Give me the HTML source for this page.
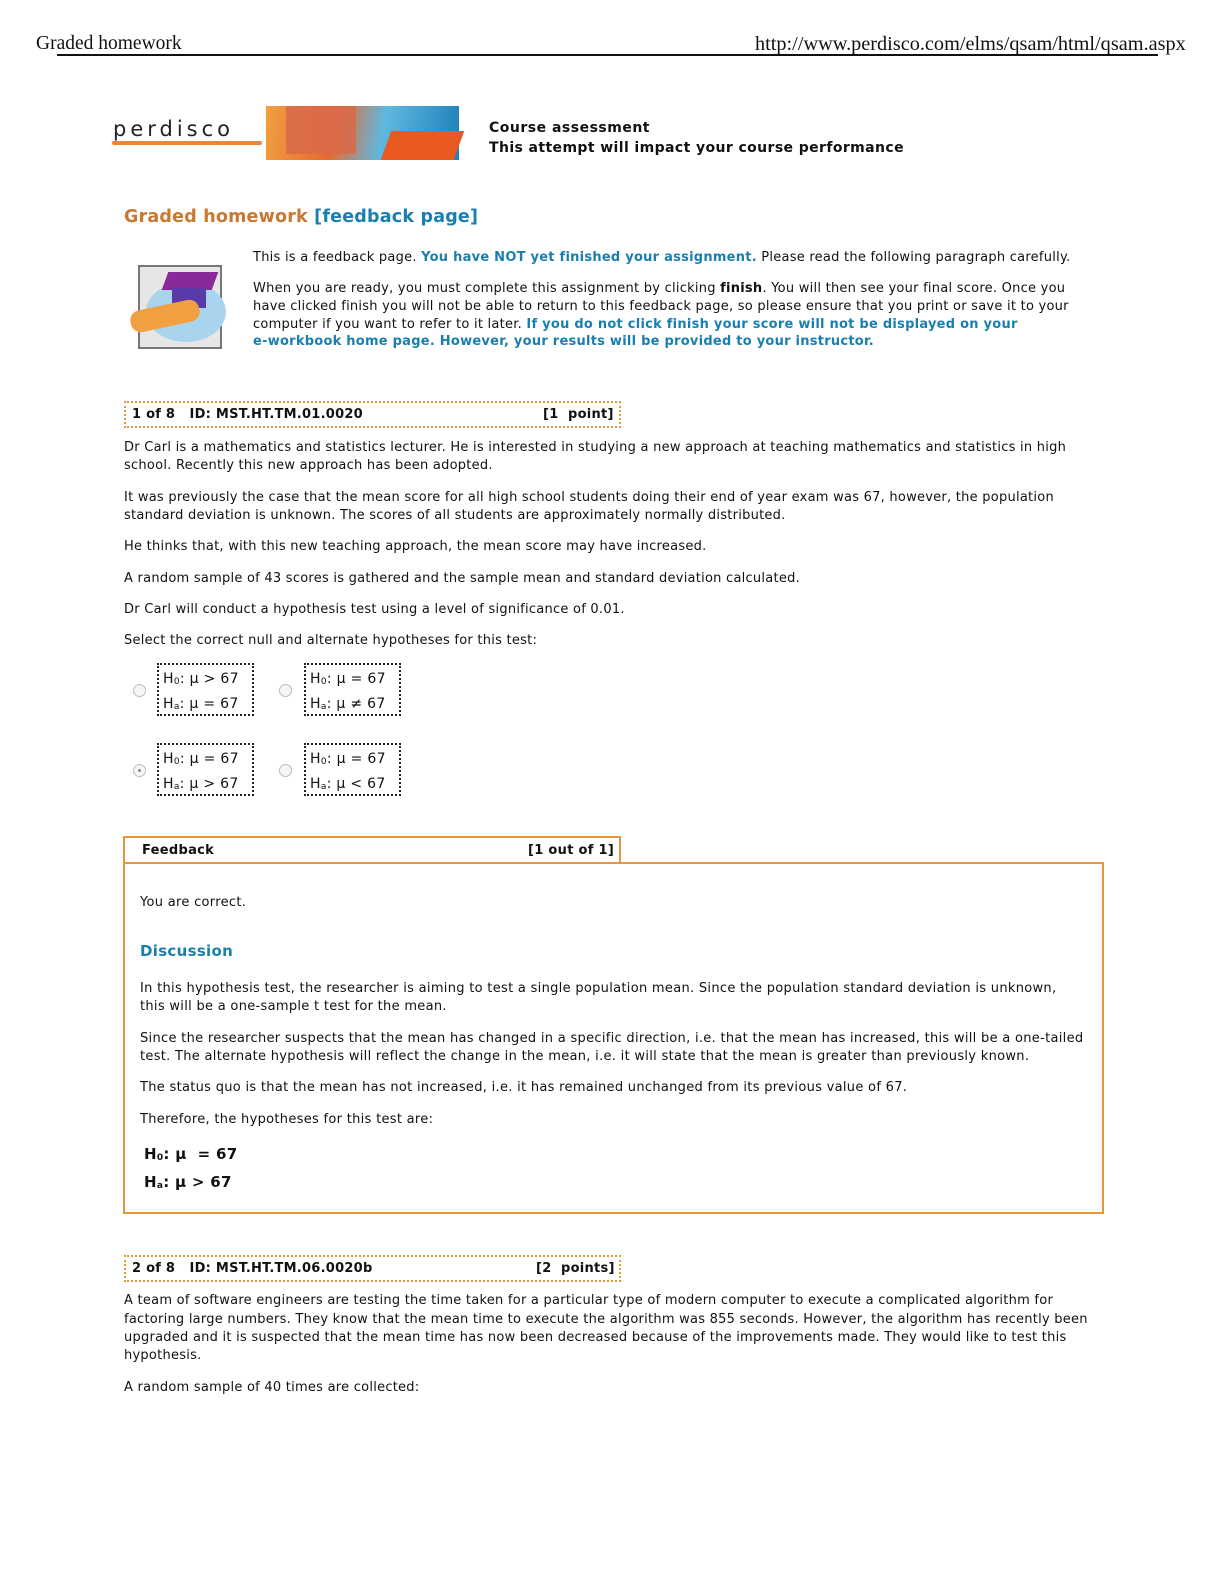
<!DOCTYPE html>
<html><head><meta charset="utf-8"><style>
body{margin:0;width:1224px;height:1584px;background:#fff;position:relative;overflow:hidden;font-family:"DejaVu Sans",Verdana,sans-serif;color:#111}
.t{position:absolute;white-space:nowrap;font-size:13px;line-height:16px;letter-spacing:0.25px}
.f{position:absolute;white-space:nowrap;font-size:13px;line-height:16px;letter-spacing:0.3px}
.b{font-weight:bold}
.bl{color:#1a7fb0;font-weight:bold}
.box{position:absolute;border:2px dotted #e8963c;box-sizing:border-box}
.opt{position:absolute;border:2px dotted #222;box-sizing:border-box;width:97px;height:53px;font-size:14px;line-height:22px;padding:3px 0 0 4px;letter-spacing:0.3px}
.r{position:absolute;width:11px;height:11px;border:1px solid #bbb;border-radius:50%;background:#f6f6f6}
sub{font-size:9px;vertical-align:-1px}
</style></head><body>
<div style="position:absolute;left:36px;top:33px;font-family:'Liberation Serif',serif;font-size:19.5px">Graded homework</div>
<div style="position:absolute;left:755px;top:33px;font-family:'Liberation Serif',serif;font-size:20.3px;white-space:nowrap">http://www.perdisco.com/elms/qsam/html/qsam.aspx</div>
<div style="position:absolute;left:57px;top:54px;width:1101px;height:2px;background:#111"></div>

<div style="position:absolute;left:108px;top:107px;width:158px;height:52px;background:#fff">
<div style="position:absolute;left:5px;top:10px;font-family:'DejaVu Sans',sans-serif;font-size:21px;letter-spacing:4px;color:#222">perdisco</div>
<div style="position:absolute;left:4px;top:34px;width:150px;height:4px;background:#e8863c;border-radius:2px"></div></div>
<div style="position:absolute;left:266px;top:106px;width:193px;height:54px;background:linear-gradient(100deg,#f0a040 0%,#e86a30 35%,#5fb8e0 60%,#1e7fb8 100%)">
<div style="position:absolute;left:20px;top:0;width:70px;height:48px;background:#d86a4a;opacity:.85"></div>
<div style="position:absolute;left:120px;top:25px;width:73px;height:29px;background:#e85a20;transform:skewX(-20deg)"></div></div>
<div class="t b" style="left:489px;top:120px;font-size:14px;letter-spacing:0.5px">Course assessment</div>
<div class="t b" style="left:489px;top:140px;font-size:14px;letter-spacing:0.4px">This attempt will impact your course performance</div>

<div style="position:absolute;left:124px;top:207px;font-size:17.5px;font-weight:bold;letter-spacing:0.2px;color:#c87830;white-space:nowrap">Graded homework <span style="color:#1a7fb0">[feedback page]</span></div>

<div style="position:absolute;left:138px;top:265px;width:84px;height:84px;background:#e6e6e6;border:2px solid #777;box-sizing:border-box"></div>
<div style="position:absolute;left:146px;top:282px;width:80px;height:60px;border-radius:50%;background:#a8d4ee"></div>
<div style="position:absolute;left:165px;top:272px;width:50px;height:18px;background:#8a2a9a;transform:skewX(-20deg)"></div>
<div style="position:absolute;left:172px;top:288px;width:34px;height:20px;background:#5a3aa8"></div>
<div style="position:absolute;left:130px;top:305px;width:70px;height:22px;background:#f0a040;border-radius:10px;transform:rotate(-12deg)"></div>

<div class="t" style="left:253px;top:250px">This is a feedback page. <span class="bl">You have NOT yet finished your assignment.</span> Please read the following paragraph carefully.</div>
<div class="t" style="left:253px;top:281px">When you are ready, you must complete this assignment by clicking <b>finish</b>. You will then see your final score. Once you</div>
<div class="t" style="left:253px;top:299px">have clicked finish you will not be able to return to this feedback page, so please ensure that you print or save it to your</div>
<div class="t" style="left:253px;top:317px">computer if you want to refer to it later. <span class="bl">If you do not click finish your score will not be displayed on your</span></div>
<div class="t bl" style="left:253px;top:334px">e-workbook home page. However, your results will be provided to your instructor.</div>

<div class="box" style="left:124px;top:401px;width:497px;height:27px"></div>
<div class="t b" style="left:132px;top:407px">1 of 8&nbsp;&nbsp; ID: MST.HT.TM.01.0020</div>
<div class="t b" style="left:543px;top:407px">[1&nbsp; point]</div>

<div class="t" style="left:124px;top:440px">Dr Carl is a mathematics and statistics lecturer. He is interested in studying a new approach at teaching mathematics and statistics in high</div>
<div class="t" style="left:124px;top:458px">school. Recently this new approach has been adopted.</div>
<div class="t" style="left:124px;top:490px">It was previously the case that the mean score for all high school students doing their end of year exam was 67, however, the population</div>
<div class="t" style="left:124px;top:508px">standard deviation is unknown. The scores of all students are approximately normally distributed.</div>
<div class="t" style="left:124px;top:539px">He thinks that, with this new teaching approach, the mean score may have increased.</div>
<div class="t" style="left:124px;top:571px">A random sample of 43 scores is gathered and the sample mean and standard deviation calculated.</div>
<div class="t" style="left:124px;top:602px">Dr Carl will conduct a hypothesis test using a level of significance of 0.01.</div>
<div class="t" style="left:124px;top:633px">Select the correct null and alternate hypotheses for this test:</div>

<div class="r" style="left:133px;top:684px"></div>
<div class="opt" style="left:157px;top:663px">H<sub>0</sub>: μ &gt; 67<br>H<sub>a</sub>: μ = 67</div>
<div class="r" style="left:279px;top:684px"></div>
<div class="opt" style="left:304px;top:663px">H<sub>0</sub>: μ = 67<br>H<sub>a</sub>: μ ≠ 67</div>
<div class="r" style="left:133px;top:764px"><div style="position:absolute;left:4px;top:4px;width:3px;height:3px;border-radius:50%;background:#888"></div></div>
<div class="opt" style="left:157px;top:743px">H<sub>0</sub>: μ = 67<br>H<sub>a</sub>: μ &gt; 67</div>
<div class="r" style="left:279px;top:764px"></div>
<div class="opt" style="left:304px;top:743px">H<sub>0</sub>: μ = 67<br>H<sub>a</sub>: μ &lt; 67</div>

<div style="position:absolute;left:123px;top:836px;width:498px;height:28px;border:2px solid #e8963c;border-bottom:none;box-sizing:border-box"></div>
<div style="position:absolute;left:123px;top:862px;width:981px;height:352px;border:2px solid #e8963c;box-sizing:border-box"></div>
<div class="f b" style="left:142px;top:843px">Feedback</div>
<div class="f b" style="left:528px;top:843px">[1 out of 1]</div>
<div class="f" style="left:140px;top:895px">You are correct.</div>
<div class="f" style="left:140px;top:943px;font-size:15px;font-weight:bold;color:#1a7fb0">Discussion</div>
<div class="f" style="left:140px;top:981px">In this hypothesis test, the researcher is aiming to test a single population mean. Since the population standard deviation is unknown,</div>
<div class="f" style="left:140px;top:999px">this will be a one-sample t test for the mean.</div>
<div class="f" style="left:140px;top:1031px">Since the researcher suspects that the mean has changed in a specific direction, i.e. that the mean has increased, this will be a one-tailed</div>
<div class="f" style="left:140px;top:1049px">test. The alternate hypothesis will reflect the change in the mean, i.e. it will state that the mean is greater than previously known.</div>
<div class="f" style="left:140px;top:1080px">The status quo is that the mean has not increased, i.e. it has remained unchanged from its previous value of 67.</div>
<div class="f" style="left:140px;top:1112px">Therefore, the hypotheses for this test are:</div>
<div class="f b" style="left:144px;top:1146px;font-size:15px">H<sub>0</sub>: μ&nbsp; = 67</div>
<div class="f b" style="left:144px;top:1174px;font-size:15px">H<sub>a</sub>: μ &gt; 67</div>

<div class="box" style="left:124px;top:1255px;width:497px;height:27px"></div>
<div class="t b" style="left:132px;top:1261px">2 of 8&nbsp;&nbsp; ID: MST.HT.TM.06.0020b</div>
<div class="t b" style="left:536px;top:1261px">[2&nbsp; points]</div>

<div class="t" style="left:124px;top:1293px">A team of software engineers are testing the time taken for a particular type of modern computer to execute a complicated algorithm for</div>
<div class="t" style="left:124px;top:1312px">factoring large numbers. They know that the mean time to execute the algorithm was 855 seconds. However, the algorithm has recently been</div>
<div class="t" style="left:124px;top:1330px">upgraded and it is suspected that the mean time has now been decreased because of the improvements made. They would like to test this</div>
<div class="t" style="left:124px;top:1348px">hypothesis.</div>
<div class="t" style="left:124px;top:1380px">A random sample of 40 times are collected:</div>
</body></html>
